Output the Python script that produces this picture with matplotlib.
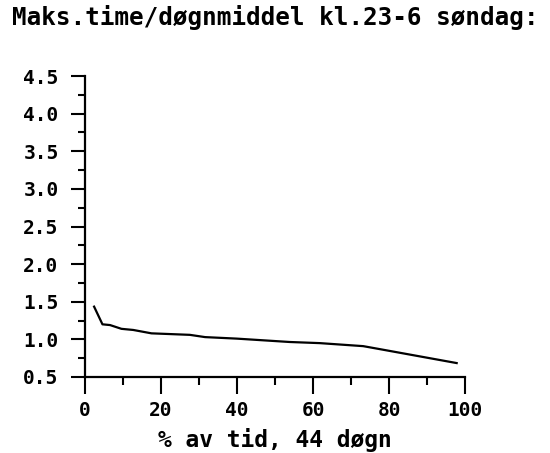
import matplotlib.pyplot as plt
from matplotlib.ticker import MultipleLocator

# Duration curve
pct_time = [2.4, 4.6, 6.6, 9.6, 12.7, 17.5, 27.6, 31.6, 39.9, 53.9, 61.8, 73.2, 77.6, 97.8]
ratio = [1.435, 1.20, 1.19, 1.14, 1.125, 1.08, 1.06, 1.03, 1.01, 0.965, 0.95, 0.91, 0.87, 0.685]

title = 'Maks.time/døgnmiddel kl.23-6 søndag:'
xlabel = '% av tid, 44 døgn'

plt.rcParams['font.family'] = ['DejaVu Sans Mono']
plt.rcParams['font.weight'] = 'bold'
plt.rcParams['axes.labelweight'] = 'bold'

fig = plt.figure(figsize=(5.5, 4.53), dpi=100, facecolor='white')
ax = fig.add_axes([0.1545, 0.1678, 0.691, 0.6644])

ax.plot(pct_time, ratio, color='black', lw=1.6)

ax.set_xlim(0, 100)
ax.set_ylim(0.5, 4.5)

# Only left and bottom axis lines
for side in ['top', 'right']:
    ax.spines[side].set_visible(False)
for side in ['left', 'bottom']:
    ax.spines[side].set_linewidth(1.6)

ax.xaxis.set_major_locator(MultipleLocator(20))
ax.xaxis.set_minor_locator(MultipleLocator(10))
ax.yaxis.set_major_locator(MultipleLocator(0.5))
ax.yaxis.set_minor_locator(MultipleLocator(0.25))
ax.yaxis.set_major_formatter(lambda v, p: f'{v:.1f}')

ax.tick_params(axis='y', which='major', direction='out', length=10, width=1.5, pad=9, labelsize=14)
ax.tick_params(axis='y', which='minor', direction='out', length=5, width=1.5)
ax.tick_params(axis='x', which='major', direction='out', length=12, width=1.5, pad=5, labelsize=14)
ax.tick_params(axis='x', which='minor', direction='out', length=6, width=1.5)

ax.set_xlabel(xlabel, fontsize=16.5, labelpad=6)

fig.text(0.022, 1 - 25 / 453, title, fontsize=17.5, ha='left', va='baseline')

plt.savefig('out.png', dpi=100, facecolor='white')
